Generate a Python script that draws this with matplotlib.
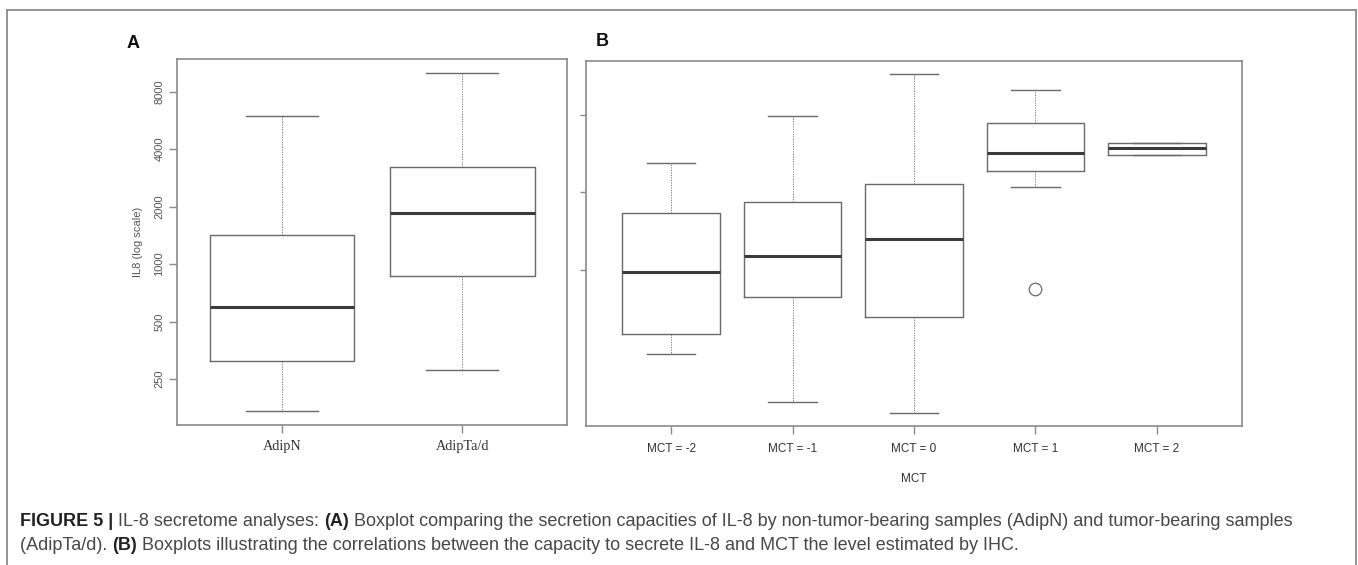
import numpy as np
import matplotlib
matplotlib.use("Agg")
import matplotlib.pyplot as plt
from matplotlib.lines import Line2D

# ---------------- data ----------------
groups_a = ["AdipN", "AdipTa/d"]
a_whislo = [170, 279]
a_q1 = [309, 865]
a_med = [595, 1861]
a_q3 = [1422, 3230]
a_whishi = [5990, 10060]
a_yticks = [250, 500, 1000, 2000, 4000, 8000]

groups_b = ["MCT = -2", "MCT = -1", "MCT = 0", "MCT = 1", "MCT = 2"]
b_whislo = [373, 200, 175, 3196, 4840]
b_q1 = [479, 778, 601, 3928, 4840]
b_med = [1073, 1308, 1634, 4930, 5252]
b_q3 = [2284, 2624, 3332, 7310, 5645]
b_whishi = [4330, 7990, 13680, 11130, 5645]
b_fliers = [[], [], [], [862], []]
b_yticks = [1097, 2981, 8103]

W, H = 1358, 565
DPI = 100
fig = plt.figure(figsize=(W / DPI, H / DPI), dpi=DPI)

def px_axes(x0, y0, x1, y1):
    return fig.add_axes([x0 / W, 1 - y1 / H, (x1 - x0) / W, (y1 - y0) / H])

BOXC = "#6a6a6a"
MEDC = "#3a3a3a"
AXC = "#8a8a8a"

def draw(ax, labels, lo, q1, med, q3, hi, fliers=None):
    stats = []
    for i, lab in enumerate(labels):
        d = dict(label=lab, whislo=lo[i], q1=q1[i], med=med[i], q3=q3[i], whishi=hi[i],
                 fliers=(fliers[i] if fliers else []))
        stats.append(d)
    pos = np.arange(1, len(labels) + 1)
    ax.bxp(stats, positions=pos, widths=0.8, showfliers=True,
           boxprops=dict(color=BOXC, linewidth=1.0),
           medianprops=dict(color=MEDC, linewidth=2.2, solid_capstyle="butt"),
           whiskerprops=dict(color=BOXC, linewidth=0.6, linestyle=(0, (1.5, 1.5))),
           capprops=dict(color=BOXC, linewidth=1.0),
           capwidths=0.4,
           flierprops=dict(marker="o", markersize=9, markerfacecolor="none",
                           markeredgecolor=BOXC, markeredgewidth=0.9))
    n = len(labels)
    ax.set_xlim(0.5 - 0.04 * n, n + 0.5 + 0.04 * n)
    for s in ax.spines.values():
        s.set_color(AXC)
        s.set_linewidth(1.2)
    ax.tick_params(axis="both", colors=AXC, length=6, width=1.0)

# ---------------- panel A ----------------
axA = px_axes(177, 59, 567, 425)
draw(axA, groups_a, a_whislo, a_q1, a_med, a_q3, a_whishi)
axA.set_yscale("log")
axA.set_ylim(143.6, 11870)
axA.set_yticks(a_yticks)
axA.set_yticklabels([str(v) for v in a_yticks], rotation=90, va="center",
                    fontsize=8, color="#555555", family="Liberation Sans")
axA.yaxis.set_minor_locator(matplotlib.ticker.NullLocator())
axA.set_xticks([1, 2])
axA.set_xticklabels(groups_a, fontsize=10.3, family="Liberation Serif", color="#333333")
axA.tick_params(axis="x", pad=5)
axA.tick_params(axis="y", pad=3)
axA.set_ylabel("IL8 (log scale)", fontsize=8, color="#555555", family="Liberation Sans", labelpad=8)

# ---------------- panel B ----------------
axB = px_axes(586, 60.7, 1242, 425.7)
draw(axB, groups_b, b_whislo, b_q1, b_med, b_q3, b_whishi, b_fliers)
axB.set_yscale("log")
axB.set_ylim(147.7, 16250)
axB.set_yticks(b_yticks)
axB.set_yticklabels([])
axB.yaxis.set_minor_locator(matplotlib.ticker.NullLocator())
axB.tick_params(axis="y", length=4)
axB.set_xticks(range(1, 6))
axB.set_xticklabels(groups_b, fontsize=8.5, family="Liberation Sans", color="#333333")
axB.tick_params(axis="x", pad=6.5)
axB.set_xlabel("MCT", fontsize=8.5, family="Liberation Sans", color="#333333", labelpad=13)

# panel letters
fig.text(133 / W, 1 - 43 / H, "A", fontsize=13, fontweight="bold", family="Liberation Sans",
         ha="center", va="center", color="#111111")
fig.text(602 / W, 1 - 42 / H, "B", fontsize=13, fontweight="bold", family="Liberation Sans",
         ha="center", va="center", color="#111111")

# outer frame
fc = "#8c8c8c"
fig.add_artist(Line2D([7 / W, 7 / W], [0, 1 - 10 / H], transform=fig.transFigure, color=fc, lw=1.3))
fig.add_artist(Line2D([1356 / W, 1356 / W], [0, 1 - 10 / H], transform=fig.transFigure, color=fc, lw=1.3))
fig.add_artist(Line2D([7 / W, 1356 / W], [1 - 10 / H, 1 - 10 / H], transform=fig.transFigure, color=fc, lw=1.3))

# caption
line1 = [("FIGURE 5 |", "bold"), (" IL-8 secretome analyses: ", "normal"), ("(A)", "bold"),
         (" Boxplot comparing the secretion capacities of IL-8 by non-tumor-bearing samples (AdipN) and tumor-bearing samples", "normal")]
line2 = [("(AdipTa/d). ", "normal"), ("(B)", "bold"),
         (" Boxplots illustrating the correlations between the capacity to secrete IL-8 and MCT the level estimated by IHC.", "normal")]

fig.canvas.draw()
renderer = fig.canvas.get_renderer()

def line_width(segs, fs):
    total = 0
    for txt, wt in segs:
        t = fig.text(0, 0, txt, fontsize=fs, fontweight=wt, family="Liberation Sans")
        total += t.get_window_extent(renderer=renderer).width
        t.remove()
    return total

CAPFS = 10.0 * (1298 - 20) / line_width(line1, 10.0)

def write_line(segs, y_px):
    x = 20 / W
    for txt, wt in segs:
        t = fig.text(x, 1 - y_px / H, txt, fontsize=CAPFS, fontweight=wt,
                     family="Liberation Sans", color="#222222" if wt == "bold" else "#474747",
                     ha="left", va="center")
        bb = t.get_window_extent(renderer=renderer)
        x += bb.width / W

write_line(line1, 522)
write_line(line2, 545)

fig.savefig("out.png", dpi=DPI)
